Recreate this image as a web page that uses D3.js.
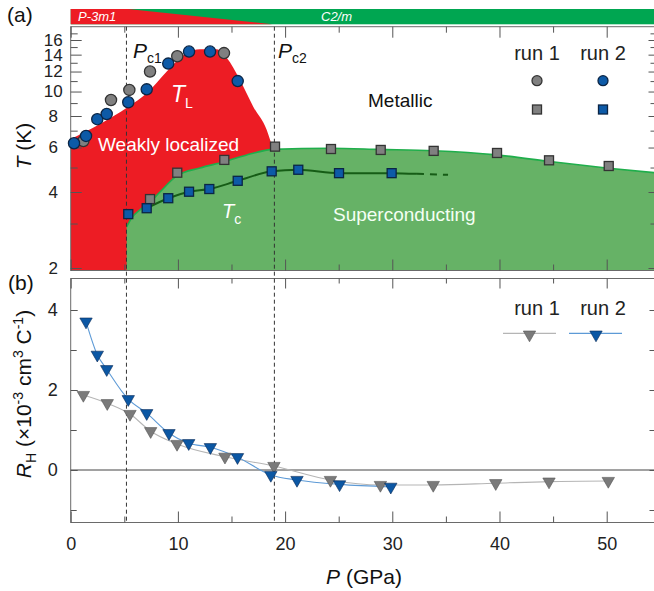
<!DOCTYPE html>
<html>
<head>
<meta charset="utf-8">
<script src="https://cdn.jsdelivr.net/npm/d3@7"></script>
<style>
  body { margin: 0; background: #fff; }
  svg { display: block; font-family: "Liberation Sans", Arial, sans-serif; }
</style>
</head>
<body>
<svg id="chart" width="654" height="591"></svg>
<script>
// [P (GPa), T (K)]
const tlRun1 = [[1.18, 6.37], [3.76, 9.26], [5.47, 10.15], [7.4, 12.0], [9.94, 13.8], [14.3, 14.2]];
const tlRun2 = [[0.31, 6.24], [1.43, 6.67], [2.48, 7.77], [3.36, 8.15], [5.37, 9.07], [7.09, 10.2],
                [9.1, 12.9], [11.04, 14.4], [13.0, 14.4], [15.58, 11.0]];
const tcRun1 = [[7.4, 3.75], [9.94, 4.77], [14.33, 5.36], [19.06, 6.05], [24.28, 5.92], [28.92, 5.87],
                [33.86, 5.82], [39.77, 5.71], [44.62, 5.34], [50.19, 5.07]];
const tcRun2 = [[5.37, 3.27], [7.09, 3.45], [9.1, 3.78], [11.04, 4.01], [12.93, 4.11], [15.58, 4.43],
                [18.75, 4.83], [21.23, 4.9], [25.03, 4.75], [29.94, 4.75]];
const tcTail = [[32.3, 4.72]];
const tcDashed = [[32.3, 4.72], [35.2, 4.68]];

// phase boundaries
const weakTop = [[0, 6.49], [2.73, 7.44], [5.37, 8.71], [7.09, 9.84], [8.96, 12.0], [10.82, 14.2],
                 [12.06, 14.7], [13.62, 14.7], [14.55, 13.6], [15.79, 11.1], [17.03, 8.71],
                 [18.28, 7.05], [18.9, 5.85]];
const scTop = [[5.22, 2.91], [5.69, 3.16], [6.46, 3.4], [7.4, 3.65], [8.33, 4.0], [9.89, 4.63],
               [12.06, 4.98], [14.24, 5.26], [16.42, 5.61], [18.9, 5.9], [24.19, 5.96], [28.85, 5.9],
               [33.83, 5.83], [39.74, 5.61], [44.7, 5.28], [50.19, 4.97], [54.46, 4.77]];
const criticalP = [5.2, 19.0];
const phaseWedge = [5.35, 18.8];

// [P (GPa), R_H (1e-3 cm3/C)]
const rhRun1 = [[1.18, 1.875], [3.41, 1.67], [5.53, 1.4], [7.46, 0.97], [9.92, 0.65], [14.39, 0.33],
                [18.96, 0.1], [24.23, -0.25], [28.89, -0.375], [33.82, -0.375], [39.65, -0.33],
                [44.62, -0.29], [50.15, -0.275]];
const rhRun2 = [[1.43, 3.71], [2.48, 2.88], [3.36, 2.52], [5.37, 1.77], [7.09, 1.42], [9.17, 0.92],
                [11.01, 0.67], [13.03, 0.57], [15.56, 0.32], [18.67, -0.125], [21.11, -0.25],
                [25.08, -0.36], [29.86, -0.42]];

const pMajor = [0, 10, 20, 30, 40, 50];
const pMinor = [5, 15, 25, 35, 45];
const tMajor = [2, 4, 6, 8, 10, 12, 14, 16];
const tMinor = [3, 5, 7, 9, 11, 13, 15, 17];
const rMajor = [0, 2, 4];
const rMinor = [-1, 1, 3];

const svg = d3.select("#chart");
const aTop = 26.7, aBottom = 270.5, bTop = 278.5, bBottom = 522.5;

const x = d3.scaleLinear().domain([0, 54.46]).range([70.7, 654.5]);
const yT = d3.scaleLog().domain([2, 16]).range([268, 40]);
const yR = d3.scaleLinear().domain([0, 4]).range([470, 310]);

const red = "#ed1c24", green = "#00a651";

// phase bar on top
svg.append("rect").attr("x", x(0)).attr("y", 9).attr("width", x(54.46) - x(0)).attr("height", 15.3)
  .attr("fill", green);
svg.append("path")
  .attr("d", d3.line()([[x(0), 9], [x(phaseWedge[0]), 9], [x(phaseWedge[1]), 24.3], [x(0), 24.3]]))
  .attr("fill", red);
svg.append("text").attr("x", 78).attr("y", 21).attr("fill", "#fff").attr("font-size", 13)
  .attr("font-style", "italic").text("P-3m1");
svg.append("text").attr("x", 321).attr("y", 21).attr("fill", "#fff").attr("font-size", 13)
  .attr("font-style", "italic").text("C2/m");

// panel a
svg.append("clipPath").attr("id", "clipA").append("rect")
  .attr("x", x(0)).attr("y", aTop).attr("width", x(54.46) - x(0)).attr("height", aBottom - aTop);
const gA = svg.append("g").attr("clip-path", "url(#clipA)");

const regionArea = d3.area().x(d => x(d[0])).y0(aBottom).y1(d => yT(d[1])).curve(d3.curveMonotoneX);
gA.append("path").datum(weakTop).attr("d", regionArea).attr("fill", red);
gA.append("path").datum(scTop).attr("d", regionArea).attr("fill", "#66b266");
gA.append("path").datum(scTop)
  .attr("d", d3.line().x(d => x(d[0])).y(d => yT(d[1])).curve(d3.curveMonotoneX))
  .attr("fill", "none").attr("stroke", "#1fae4b").attr("stroke-width", 1.6);

const tLine = d3.line().x(d => x(d[0])).y(d => yT(d[1])).curve(d3.curveMonotoneX);
gA.append("path").datum(tcRun2.slice(1).concat(tcTail)).attr("d", tLine)
  .attr("fill", "none").attr("stroke", "#165c16").attr("stroke-width", 2);
gA.append("path").datum(tcDashed).attr("d", tLine)
  .attr("fill", "none").attr("stroke", "#165c16").attr("stroke-width", 2).attr("stroke-dasharray", "7,6");

// panel frames
[[aTop, aBottom], [bTop, bBottom]].forEach(([t, b]) => {
  svg.append("rect").attr("x", x(0)).attr("y", t).attr("width", x(54.46) - x(0)).attr("height", b - t)
    .attr("fill", "none").attr("stroke", "#6a6a6a").attr("stroke-width", 1);
});

// zero line
svg.append("line").attr("x1", x(0)).attr("x2", x(54.46)).attr("y1", yR(0)).attr("y2", yR(0))
  .attr("stroke", "#444").attr("stroke-width", 1);

// critical pressures
svg.selectAll(".crit").data(criticalP).join("line")
  .attr("x1", d => x(d)).attr("x2", d => x(d)).attr("y1", aTop).attr("y2", bBottom)
  .attr("stroke", "#333").attr("stroke-width", 1).attr("stroke-dasharray", "4,3");

// axes
function ticks(gen, scale, values, len, tx, ty, labels) {
  const g = svg.append("g").attr("transform", `translate(${tx},${ty})`)
    .call(gen(scale).tickValues(values).tickSize(-len).tickPadding(15)
      .tickFormat(labels ? d3.format("d") : ""));
  g.select(".domain").remove();
  g.selectAll("line").attr("stroke", "#555");
  g.selectAll("text").attr("font-size", 18).attr("fill", "#222").attr("font-family", null);
  return g;
}
ticks(d3.axisTop, x, pMajor, 11, 0, aTop, false);
ticks(d3.axisTop, x, pMinor, 6, 0, aTop, false);
ticks(d3.axisBottom, x, pMajor, 11, 0, aBottom, false);
ticks(d3.axisBottom, x, pMinor, 6, 0, aBottom, false);
ticks(d3.axisTop, x, pMajor, 10, 0, bTop, false);
ticks(d3.axisTop, x, pMinor, 5, 0, bTop, false);
ticks(d3.axisBottom, x, pMajor, 11, 0, bBottom, true);
ticks(d3.axisBottom, x, pMinor, 6, 0, bBottom, false);

ticks(d3.axisLeft, yT, tMajor, 11, x(0), 0, true)
  .selectAll("text").attr("text-anchor", "middle").attr("x", -17.5).attr("font-size", 17);
ticks(d3.axisLeft, yT, tMinor.filter(v => yT(v) > aTop), 7, x(0), 0, false);
ticks(d3.axisRight, yT, tMajor, 6, x(54.46), 0, false);
ticks(d3.axisRight, yT, tMinor.filter(v => yT(v) > aTop), 4, x(54.46), 0, false);

ticks(d3.axisLeft, yR, rMajor, 7, x(0), 0, true)
  .selectAll("text").attr("text-anchor", "middle").attr("x", -18);
ticks(d3.axisLeft, yR, rMinor, 6, x(0), 0, false);
ticks(d3.axisRight, yR, rMajor.concat(rMinor), 5, x(54.46), 0, false);

// markers
const circleStyle = { run1: ["#808080", "#333"], run2: ["#0d5aa7", "#0b2545"] };
function circles(data, style, r) {
  svg.append("g").selectAll("circle").data(data).join("circle")
    .attr("cx", d => x(d[0])).attr("cy", d => yT(d[1])).attr("r", r)
    .attr("fill", style[0]).attr("stroke", style[1]).attr("stroke-width", 1.3);
}
function squares(data, style, s) {
  svg.append("g").selectAll("rect").data(data).join("rect")
    .attr("x", d => x(d[0]) - s / 2).attr("y", d => yT(d[1]) - s / 2).attr("width", s).attr("height", s)
    .attr("fill", style[0]).attr("stroke", style[1]).attr("stroke-width", 1.3);
}
circles(tlRun1, circleStyle.run1, 5.6);
circles(tlRun2, circleStyle.run2, 5.6);
squares(tcRun1, circleStyle.run1, 9);
squares(tcRun2, circleStyle.run2, 9);

const triPath = "M-6.2,-3.6L6.2,-3.6L0,7.2Z";
const rLine = d3.line().x(d => x(d[0])).y(d => yR(d[1])).curve(d3.curveMonotoneX);
const triStyle = { run1: ["#7a7a7a", "#555", "#b5b5b5"], run2: ["#0b57a4", "#0a2a55", "#5d9ad6"] };
[[rhRun1, triStyle.run1], [rhRun2, triStyle.run2]].forEach(([data, st]) => {
  svg.append("path").datum(data).attr("d", rLine).attr("fill", "none")
    .attr("stroke", st[2]).attr("stroke-width", 1.1);
});
[[rhRun1, triStyle.run1], [rhRun2, triStyle.run2]].forEach(([data, st]) => {
  svg.append("g").selectAll("path").data(data).join("path")
    .attr("d", triPath).attr("transform", d => `translate(${x(d[0])},${yR(d[1])})`)
    .attr("fill", st[0]).attr("stroke", st[1]).attr("stroke-width", 0.6);
});

// legends
const legX = [537, 603];
["run 1", "run 2"].forEach((t, i) => {
  svg.append("text").attr("x", legX[i]).attr("y", 60).attr("text-anchor", "middle")
    .attr("font-size", 20).attr("fill", "#222").text(t);
  svg.append("text").attr("x", legX[i]).attr("y", 315).attr("text-anchor", "middle")
    .attr("font-size", 20).attr("fill", "#222").text(t);
});
const legSt = [circleStyle.run1, circleStyle.run2];
legX.forEach((lx, i) => {
  svg.append("circle").attr("cx", lx).attr("cy", 80.7).attr("r", 5)
    .attr("fill", legSt[i][0]).attr("stroke", legSt[i][1]).attr("stroke-width", 1.3);
  svg.append("rect").attr("x", lx - 4.5).attr("y", 105).attr("width", 9).attr("height", 9)
    .attr("fill", legSt[i][0]).attr("stroke", legSt[i][1]).attr("stroke-width", 1.3);
});
[[529.5, triStyle.run1, 503, 556], [596, triStyle.run2, 569, 622]].forEach(([cx, st, x1, x2]) => {
  svg.append("line").attr("x1", x1).attr("x2", x2).attr("y1", 333.3).attr("y2", 333.3)
    .attr("stroke", st[2]).attr("stroke-width", 1.3);
  svg.append("path").attr("d", triPath).attr("transform", `translate(${cx},334.6)`)
    .attr("fill", st[0]).attr("stroke", st[1]).attr("stroke-width", 0.6);
});

// labels
function label(xp, yp, parts, size, fill) {
  const t = svg.append("text").attr("x", xp).attr("y", yp).attr("font-size", size).attr("fill", fill);
  parts.forEach(p => {
    const s = t.append("tspan").text(p.t);
    if (p.i) s.attr("font-style", "italic");
    if (p.dy) s.attr("dy", p.dy);
    if (p.fs) s.attr("font-size", p.fs);
  });
  return t;
}
label(7, 22, [{ t: "(a)" }], 21, "#111");
label(8, 290, [{ t: "(b)" }], 21, "#111");
label(133, 58, [{ t: "P", i: true }, { t: "c1", dy: 5, fs: 14 }], 21, "#111");
label(278, 58, [{ t: "P", i: true }, { t: "c2", dy: 5, fs: 14 }], 21, "#111");
label(171, 102, [{ t: "T", i: true }, { t: "L", dy: 6, fs: 14 }], 23, "#fff");
label(222, 218, [{ t: "T", i: true }, { t: "c", dy: 6, fs: 14 }], 20, "#fff");
label(98, 151, [{ t: "Weakly localized" }], 19, "#fff");
label(368, 107, [{ t: "Metallic" }], 19, "#111");
label(333, 221, [{ t: "Superconducting" }], 19, "#f4fff4");

label(364, 584, [{ t: "P", i: true }, { t: " (GPa)" }], 21, "#111").attr("text-anchor", "middle");
label(0, 0, [{ t: "T", i: true }, { t: " (K)" }], 21, "#111")
  .attr("text-anchor", "middle").attr("transform", "translate(31,146) rotate(-90)");
label(0, 0, [{ t: "R", i: true }, { t: "H", dy: 5, fs: 14 }, { t: " (×10", dy: -5 },
             { t: "-3", dy: -8, fs: 14 }, { t: " cm", dy: 8 }, { t: "3", dy: -8, fs: 14 },
             { t: " C", dy: 8 }, { t: "-1", dy: -8, fs: 14 }, { t: ")", dy: 8 }], 21, "#111")
  .attr("text-anchor", "middle").attr("transform", "translate(31,394) rotate(-90)");
</script>
</body>
</html>
